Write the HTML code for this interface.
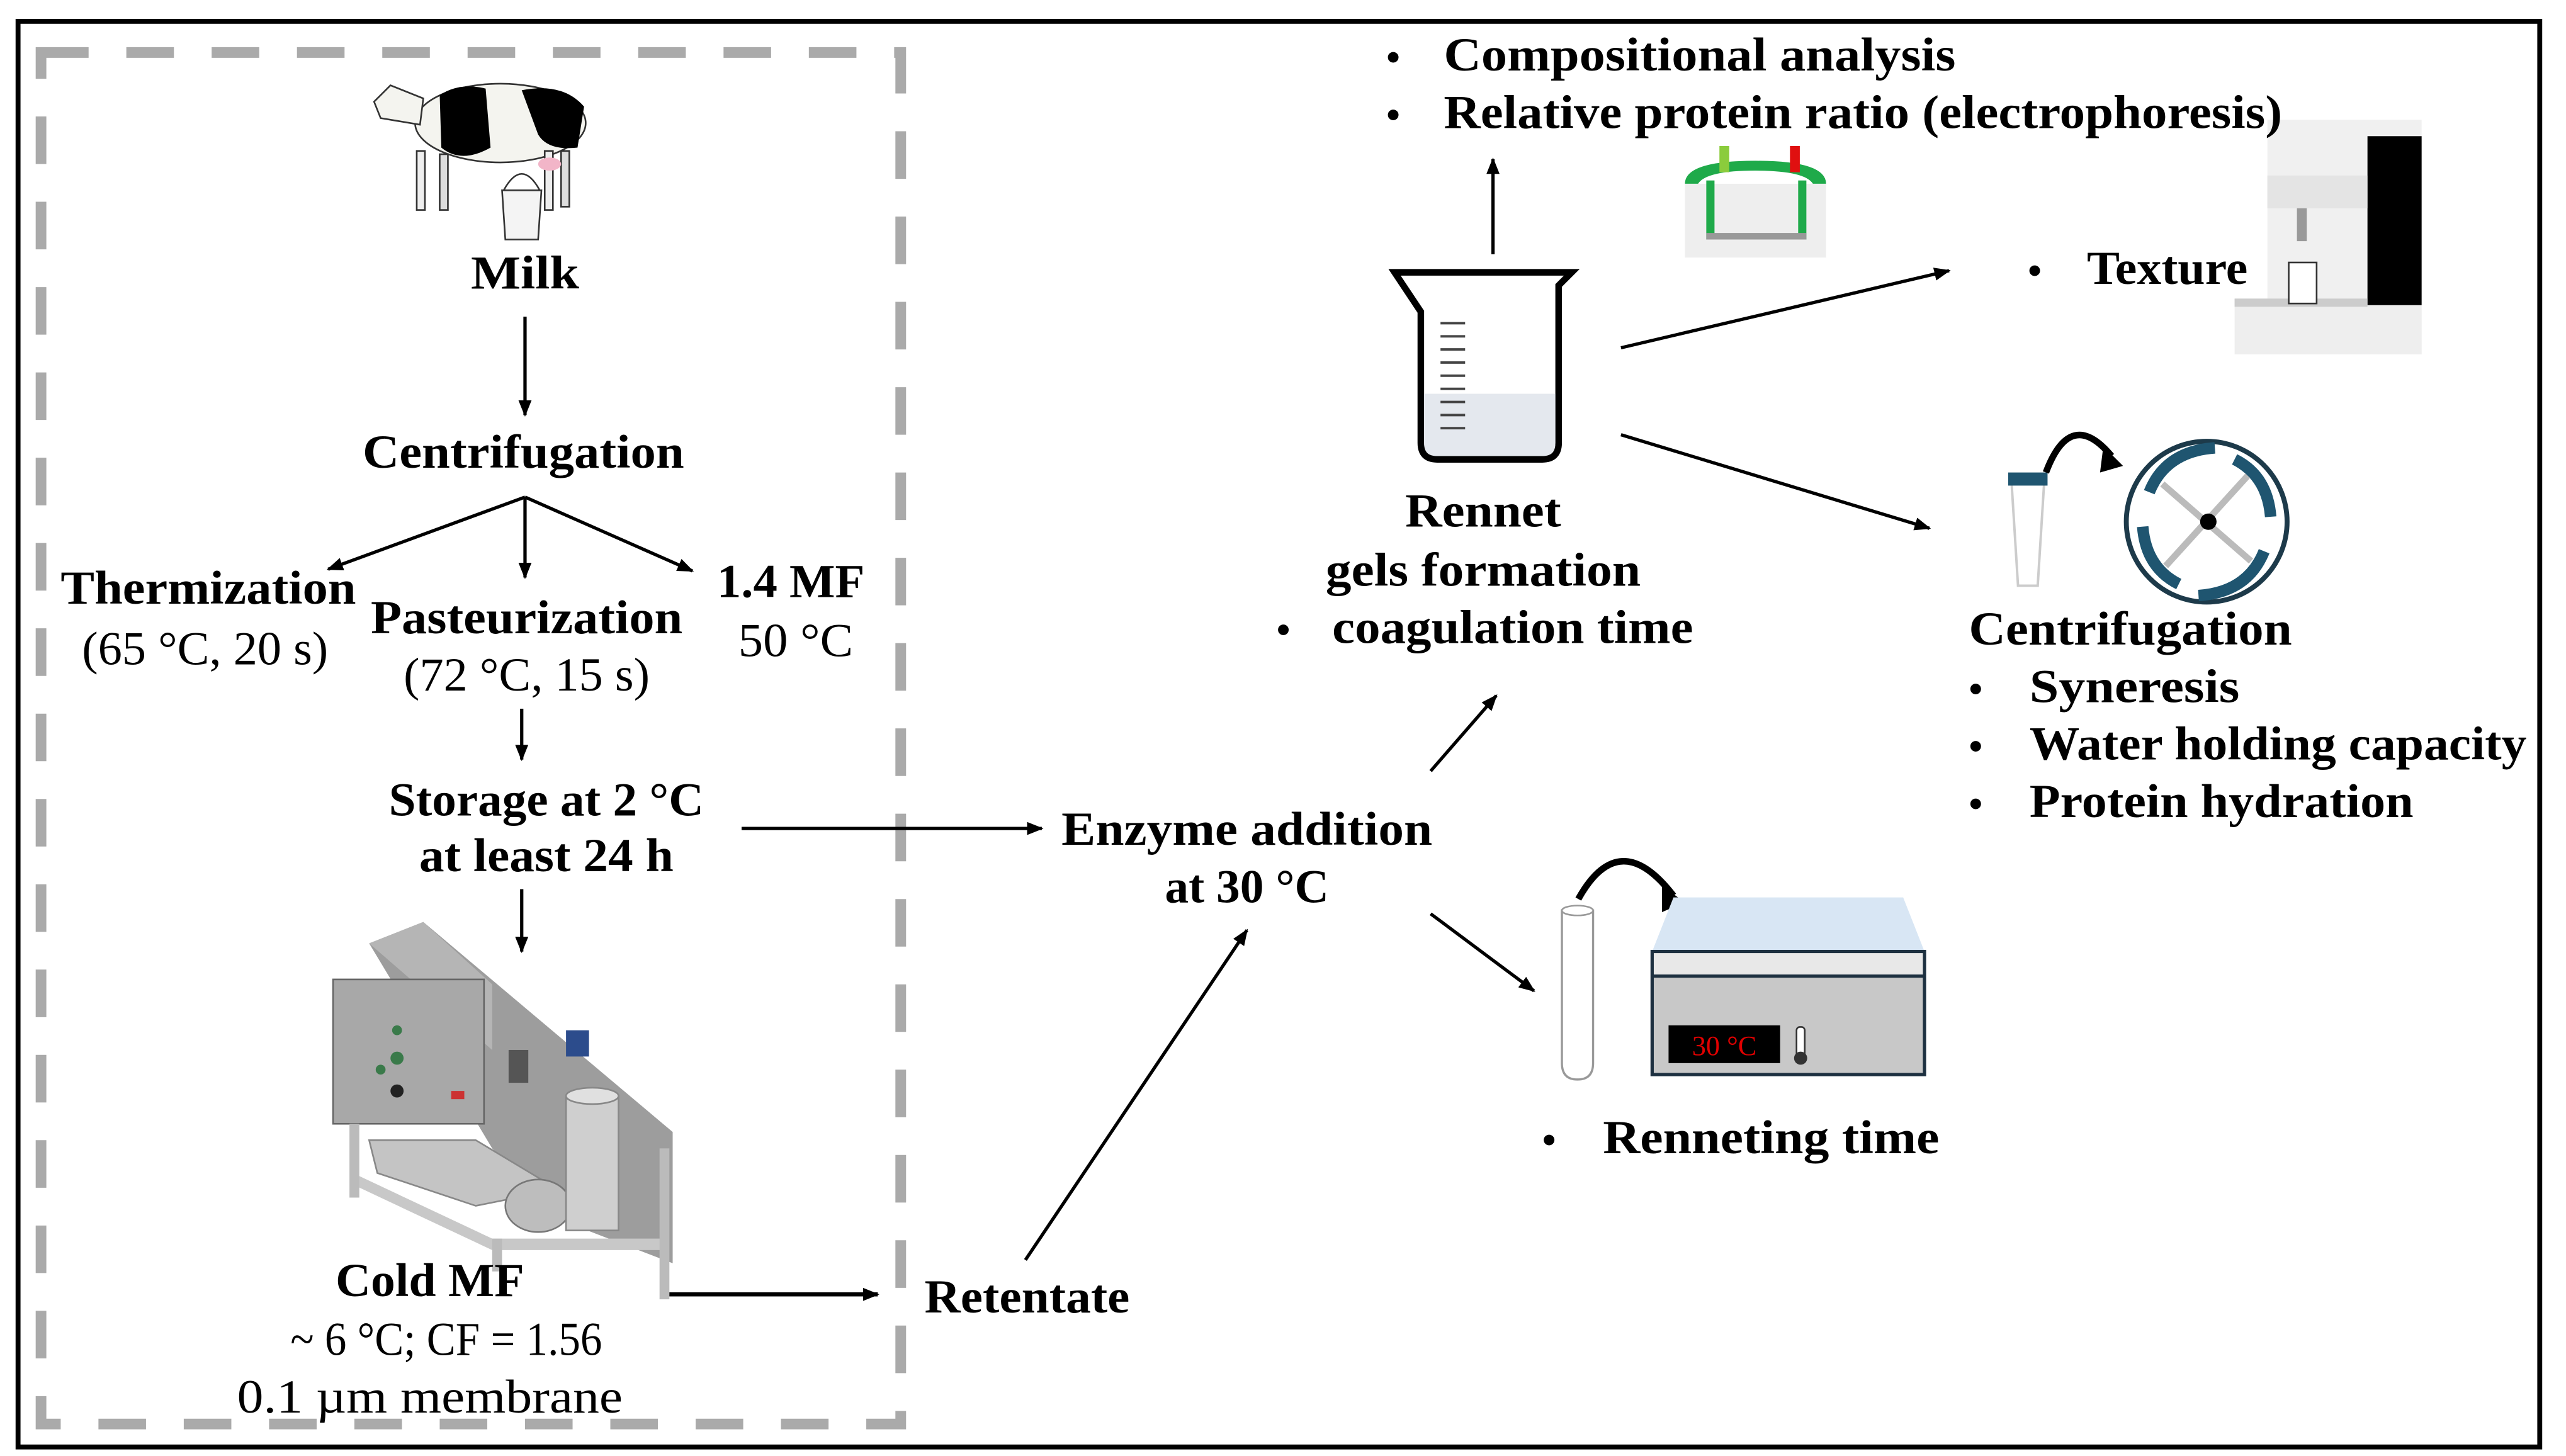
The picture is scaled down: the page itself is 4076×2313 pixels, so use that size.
<!DOCTYPE html>
<html><head><meta charset="utf-8"><style>
html,body{margin:0;padding:0;background:#fff}
svg{display:block}
</style></head><body>
<svg width="4076" height="2313" viewBox="0 0 1564 887.5" preserveAspectRatio="none" xmlns="http://www.w3.org/2000/svg" font-family="'Liberation Serif', 'DejaVu Serif', serif">
<defs>
<marker id="a" markerWidth="10" markerHeight="8" refX="9" refY="4" orient="auto" markerUnits="userSpaceOnUse"><path d="M0,0 L10,4 L0,8 Z" fill="#000"/></marker>
</defs>
<rect x="11" y="13" width="1537" height="869" fill="none" stroke="#000" stroke-width="3"/>
<rect x="25" y="32" width="524" height="836" fill="none" stroke="#aaa" stroke-width="6.5" stroke-dasharray="29,23"/>

<!-- cow -->
<g>
<ellipse cx="305" cy="75" rx="52" ry="24" fill="#f4f4ef" stroke="#333" stroke-width="1"/>
<path d="M268 58 q12 -8 28 -4 l3 36 q-18 10 -30 0z" fill="#000"/>
<path d="M318 55 q25 -5 38 10 l-4 25 q-18 2 -24 -8z" fill="#000"/>
<path d="M258 60 L238 52 L228 62 L232 72 L256 76 Z" fill="#f4f4ef" stroke="#333" stroke-width="1"/>
<rect x="254" y="92" width="5" height="36" fill="#eee" stroke="#333" stroke-width="1"/>
<rect x="268" y="94" width="5" height="34" fill="#ddd" stroke="#333" stroke-width="1"/>
<rect x="332" y="92" width="5" height="36" fill="#eee" stroke="#333" stroke-width="1"/>
<rect x="342" y="92" width="5" height="34" fill="#ddd" stroke="#333" stroke-width="1"/>
<ellipse cx="335" cy="100" rx="7" ry="4" fill="#f2b5c8"/>
<path d="M306 116 l24 0 l-2 30 l-20 0z" fill="#f4f4f4" stroke="#333" stroke-width="1"/>
<path d="M307 116 q11 -20 22 0" fill="none" stroke="#333" stroke-width="1"/>
</g>

<!-- machine -->
<g>
<path d="M225 575 L258 562 L410 690 L410 770 L345 745 L300 700 Z" fill="#9d9d9d"/>
<path d="M225 575 L258 562 L300 600 L300 640 Z" fill="#b5b5b5"/>
<rect x="203" y="597" width="92" height="88" fill="#a8a8a8" stroke="#666"/>
<circle cx="242" cy="628" r="3" fill="#3a7a4a"/><circle cx="242" cy="645" r="4" fill="#3a7a4a"/><circle cx="232" cy="652" r="3" fill="#3a7a4a"/><circle cx="242" cy="665" r="4" fill="#222"/>
<path d="M215 715 L300 755 L405 755 L405 762 L300 762 L215 722 Z" fill="#c8c8c8"/>
<rect x="213" y="685" width="6" height="45" fill="#bbb"/>
<rect x="300" y="755" width="6" height="20" fill="#bbb"/>
<rect x="402" y="700" width="6" height="92" fill="#bbb"/>
<path d="M225 695 L290 695 L340 725 L290 735 L230 715 Z" fill="#c4c4c4" stroke="#888"/>
<ellipse cx="328" cy="735" rx="20" ry="16" fill="#bdbdbd" stroke="#777"/>
<rect x="345" y="668" width="32" height="82" fill="#cfcfcf" stroke="#888"/>
<ellipse cx="361" cy="668" rx="16" ry="5" fill="#e0e0e0" stroke="#888"/>
<rect x="345" y="628" width="14" height="16" fill="#2c4c8c"/>
<rect x="310" y="640" width="12" height="20" fill="#555"/>
<rect x="275" y="665" width="8" height="5" fill="#c33"/>
</g>

<!-- beaker -->
<g>
<path d="M850 166 L958 166 L950 174 L950 270 q0 10 -10 10 L876 280 q-10 0 -10 -10 L866 190 Z" fill="#fff" stroke="#000" stroke-width="4"/>
<path d="M868 240 L948 240 L948 270 q0 8 -8 8 L876 278 q-8 0 -8 -8 Z" fill="#e4e8ee"/>
<g stroke="#444" stroke-width="1.5">
<line x1="878" y1="197" x2="893" y2="197"/><line x1="878" y1="205" x2="893" y2="205"/><line x1="878" y1="213" x2="893" y2="213"/><line x1="878" y1="221" x2="893" y2="221"/><line x1="878" y1="229" x2="893" y2="229"/><line x1="878" y1="237" x2="893" y2="237"/><line x1="878" y1="245" x2="893" y2="245"/><line x1="878" y1="253" x2="893" y2="253"/><line x1="878" y1="261" x2="893" y2="261"/>
</g>
</g>

<!-- electrophoresis -->
<g>
<rect x="1027" y="112" width="86" height="45" fill="#eee"/>
<path d="M1027 112 q0 -14 43 -14 q43 0 43 14 l-8 0 q-5 -8 -35 -8 q-30 0 -35 8z" fill="#1faa4a"/>
<rect x="1040" y="110" width="5" height="36" fill="#1faa4a"/>
<rect x="1096" y="110" width="5" height="36" fill="#1faa4a"/>
<rect x="1040" y="142" width="61" height="4" fill="#999"/>
<rect x="1048" y="89" width="6" height="16" fill="#8bcc3c"/>
<rect x="1091" y="89" width="6" height="16" fill="#e01010"/>
</g>

<!-- texture analyzer -->
<g>
<rect x="1382" y="73" width="94" height="143" fill="#f0f0f0"/>
<rect x="1362" y="185" width="114" height="31" fill="#eee"/>
<rect x="1443" y="83" width="33" height="103" fill="#000"/>
<rect x="1382" y="107" width="61" height="20" fill="#e4e4e4"/>
<rect x="1400" y="127" width="6" height="20" fill="#999"/>
<rect x="1362" y="182" width="81" height="5" fill="#ccc"/>
<rect x="1395" y="160" width="17" height="25" fill="#fff" stroke="#333"/>
</g>

<!-- tube + rotor -->
<g>
<path d="M1226 293 L1246 293 L1242 357 L1230 357 Z" fill="#fff" stroke="#ccc" stroke-width="1.5"/>
<rect x="1224" y="288" width="24" height="8" fill="#1f5570"/>
<path d="M1247 288 q15 -40 40 -10" fill="none" stroke="#000" stroke-width="4"/>
<path d="M1282 272 l12 12 l-14 4 z" fill="#000"/>
<circle cx="1345" cy="318" r="49" fill="#fff" stroke="#1d3a4a" stroke-width="3"/>
<path d="M1310 300 q10 -25 40 -27" fill="none" stroke="#1f5570" stroke-width="7"/>
<path d="M1380 336 q-10 25 -40 27" fill="none" stroke="#1f5570" stroke-width="7"/>
<path d="M1362 280 q20 10 22 35" fill="none" stroke="#1f5570" stroke-width="7"/>
<path d="M1328 356 q-20 -10 -22 -35" fill="none" stroke="#1f5570" stroke-width="7"/>
<line x1="1320" y1="345" x2="1370" y2="290" stroke="#bbb" stroke-width="4"/>
<line x1="1318" y1="295" x2="1372" y2="342" stroke="#bbb" stroke-width="4"/>
<circle cx="1346" cy="318" r="5" fill="#000"/>
</g>

<!-- test tube & incubator -->
<g>
<path d="M952 555 L971 555 L971 648 q0 10 -9.5 10 q-9.5 0 -9.5 -10 Z" fill="#fff" stroke="#999" stroke-width="1.3"/>
<ellipse cx="961.5" cy="555" rx="9.5" ry="3" fill="#fff" stroke="#999"/>
<path d="M962 548 q25 -45 58 -2" fill="none" stroke="#000" stroke-width="4"/>
<path d="M1013 540 l14 10 l-14 6 z" fill="#000"/>
<path d="M1020 547 L1160 547 L1173 580 L1007 580 Z" fill="#d8e6f4"/>
<rect x="1007" y="580" width="166" height="75" fill="#c8c8c8" stroke="#1d3040" stroke-width="2"/>
<rect x="1008" y="581" width="164" height="13" fill="#e8e8e8"/>
<line x1="1007" y1="595" x2="1173" y2="595" stroke="#1d3040" stroke-width="2"/>
<rect x="1017" y="625" width="68" height="23" fill="#000"/>
<text x="1051" y="643" text-anchor="middle" font-size="17" fill="#e00000">30 °C</text>
<rect x="1095" y="626" width="5" height="18" rx="2" fill="#fff" stroke="#333"/>
<circle cx="1097.5" cy="645" r="4" fill="#333"/>
</g>

<!-- arrows -->
<g stroke="#000" stroke-width="2">
<line x1="320" y1="193" x2="320" y2="253" marker-end="url(#a)"/>
<line x1="320" y1="303" x2="200" y2="347" marker-end="url(#a)"/>
<line x1="320" y1="303" x2="320" y2="352" marker-end="url(#a)"/>
<line x1="320" y1="303" x2="422" y2="348" marker-end="url(#a)"/>
<line x1="318" y1="432" x2="318" y2="463" marker-end="url(#a)"/>
<line x1="318" y1="542" x2="318" y2="580" marker-end="url(#a)"/>
<line x1="408" y1="789" x2="535" y2="789" stroke-width="2.5" marker-end="url(#a)"/>
<line x1="625" y1="768" x2="760" y2="567" marker-end="url(#a)"/>
<line x1="452" y1="505" x2="635" y2="505" marker-end="url(#a)"/>
<line x1="872" y1="470" x2="912" y2="424" marker-end="url(#a)"/>
<line x1="910" y1="155" x2="910" y2="97" marker-end="url(#a)"/>
<line x1="988" y1="212" x2="1188" y2="165" marker-end="url(#a)"/>
<line x1="988" y1="265" x2="1176" y2="322" marker-end="url(#a)"/>
<line x1="872" y1="557" x2="935" y2="604" marker-end="url(#a)"/>
</g>

<g font-weight="bold" font-size="29">
<text x="320" y="176" text-anchor="middle" textLength="66" lengthAdjust="spacingAndGlyphs">Milk</text>
<text x="319" y="285" text-anchor="middle" textLength="196" lengthAdjust="spacingAndGlyphs">Centrifugation</text>
<text x="127" y="368" text-anchor="middle" textLength="180" lengthAdjust="spacingAndGlyphs">Thermization</text>
<text x="321" y="386" text-anchor="middle" textLength="190" lengthAdjust="spacingAndGlyphs">Pasteurization</text>
<text x="482" y="364" text-anchor="middle" textLength="90" lengthAdjust="spacingAndGlyphs">1.4 MF</text>
<text x="333" y="497" text-anchor="middle" textLength="192" lengthAdjust="spacingAndGlyphs">Storage at 2 °C</text>
<text x="333" y="531" text-anchor="middle" textLength="155" lengthAdjust="spacingAndGlyphs">at least 24 h</text>
<text x="262" y="790" text-anchor="middle" textLength="115" lengthAdjust="spacingAndGlyphs">Cold MF</text>
<text x="626" y="800" text-anchor="middle" textLength="125" lengthAdjust="spacingAndGlyphs">Retentate</text>
<text x="760" y="515" text-anchor="middle" textLength="226" lengthAdjust="spacingAndGlyphs">Enzyme addition</text>
<text x="760" y="550" text-anchor="middle" textLength="100" lengthAdjust="spacingAndGlyphs">at 30 °C</text>
<text x="904" y="321" text-anchor="middle" textLength="95" lengthAdjust="spacingAndGlyphs">Rennet</text>
<text x="904" y="357" text-anchor="middle" textLength="192" lengthAdjust="spacingAndGlyphs">gels formation</text>
<text x="778" y="392" font-size="24">•</text>
<text x="812" y="392" textLength="220" lengthAdjust="spacingAndGlyphs">coagulation time</text>
<text x="845" y="43" font-size="24">•</text>
<text x="880" y="43" textLength="312" lengthAdjust="spacingAndGlyphs">Compositional analysis</text>
<text x="845" y="78" font-size="24">•</text>
<text x="880" y="78" textLength="511" lengthAdjust="spacingAndGlyphs">Relative protein ratio (electrophoresis)</text>
<text x="1236" y="173" font-size="24">•</text>
<text x="1272" y="173" textLength="98" lengthAdjust="spacingAndGlyphs">Texture</text>
<text x="1200" y="393" textLength="197" lengthAdjust="spacingAndGlyphs">Centrifugation</text>
<text x="1200" y="428" font-size="24">•</text><text x="1237" y="428" textLength="128" lengthAdjust="spacingAndGlyphs">Syneresis</text>
<text x="1200" y="463" font-size="24">•</text><text x="1237" y="463" textLength="303" lengthAdjust="spacingAndGlyphs">Water holding capacity</text>
<text x="1200" y="498" font-size="24">•</text><text x="1237" y="498" textLength="234" lengthAdjust="spacingAndGlyphs">Protein hydration</text>
<text x="940" y="703" font-size="24">•</text>
<text x="977" y="703" textLength="205" lengthAdjust="spacingAndGlyphs">Renneting time</text>
</g>
<g font-size="29">
<text x="125" y="405" text-anchor="middle" textLength="150" lengthAdjust="spacingAndGlyphs">(65 °C, 20 s)</text>
<text x="321" y="421" text-anchor="middle" textLength="150" lengthAdjust="spacingAndGlyphs">(72 °C, 15 s)</text>
<text x="485" y="400" text-anchor="middle" textLength="70" lengthAdjust="spacingAndGlyphs">50 °C</text>
<text x="272" y="826" text-anchor="middle" textLength="190" lengthAdjust="spacingAndGlyphs">~ 6 °C; CF = 1.56</text>
<text x="262" y="861" text-anchor="middle" textLength="235" lengthAdjust="spacingAndGlyphs">0.1 µm membrane</text>
</g>
</svg>
</body></html>
